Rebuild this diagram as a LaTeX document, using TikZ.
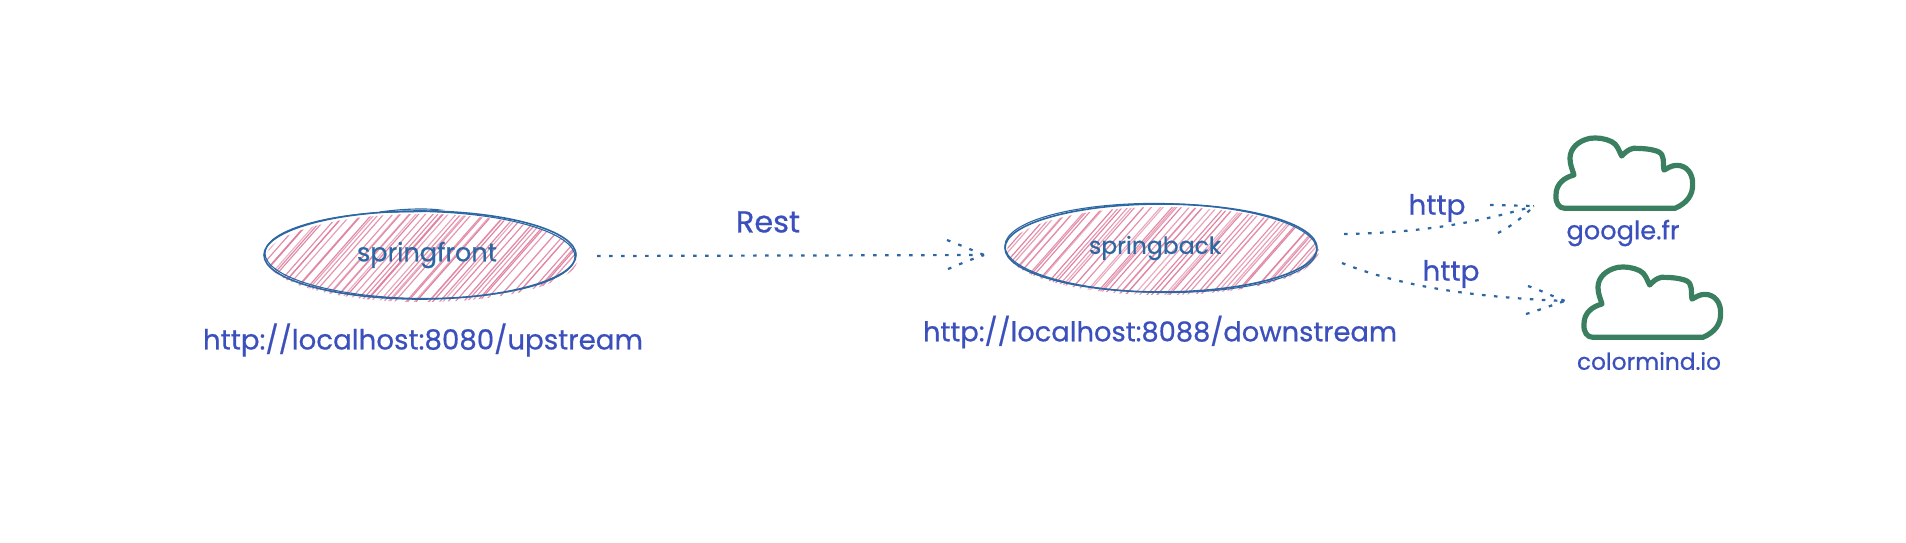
\documentclass[tikz,border=0pt]{standalone}
\usepackage{fontspec}
\setmainfont{Poppins}
\newfontfamily\sketchfont[FakeBold=0.6]{Poppins}
\usetikzlibrary{shapes.geometric,calc}
\definecolor{labelblue}{HTML}{3B50BC}
\definecolor{inkblue}{HTML}{2D67A3}
\definecolor{hachpink}{HTML}{E07F9E}
\definecolor{cloudgreen}{HTML}{3A8060}
\newcommand{\fitw}[2]{\resizebox{#1pt}{!}{\sketchfont #2}}
\newcommand{\hachfill}[4]{%
  \begin{scope}
    \clip (#1+2,#2+3) ellipse ({#3} and {#4});
    \pgfmathsetseed{#1}
    \foreach \k in {-38,...,38}{
      \pgfmathsetmacro\jx{\k*5+rand*1.2}
      \pgfmathsetmacro\jy{rand*5}
      \pgfmathsetmacro\op{0.6+0.4*rnd}
      \draw[hachline,draw opacity=\op] (#1+\jx-44+\jy,#2+50) -- (#1+\jx+44+\jy,#2-50);
    }
  \end{scope}}
\tikzset{
  x=1pt,y=-1pt,
  urltext/.style={text=labelblue,inner sep=0pt,font=\fontsize{25}{30}\selectfont},
  nametext/.style={text=inkblue,font=\fontsize{22}{26}\selectfont},
  hachline/.style={draw=hachpink,line width=1.15pt},
  oval/.style={ellipse,draw=inkblue,line width=1.6pt,inner sep=0pt,minimum width=312pt,minimum height=88pt},
  sketchline/.style={draw=inkblue,line width=1.1pt},
  dotline/.style={draw=inkblue,line width=2.2pt,dash pattern=on 3.6pt off 8.4pt},
  cloudpic/.pic={
    \draw[draw=cloudgreen,line width=5.2pt,line join=round,line cap=round,x=0.3333pt,y=-0.3333pt]
      (795,265) -- (1125,265)
      .. controls (1160,250) and (1180,225) .. (1178,190)
      .. controls (1178,160) and (1160,136) .. (1130,136)
      .. controls (1115,136) and (1103,145) .. (1092,150)
      .. controls (1088,125) and (1095,105) .. (1075,95)
      .. controls (1050,85) and (1015,85) .. (1000,85)
      .. controls (985,88) and (975,98) .. (965,108)
      .. controls (958,95) and (952,72) .. (935,65)
      .. controls (915,55) and (890,52) .. (870,55)
      .. controls (835,62) and (810,85) .. (810,115)
      .. controls (810,135) and (818,150) .. (822,165)
      .. controls (795,172) and (768,190) .. (768,225)
      .. controls (766,250) and (778,265) .. (795,265);
  }
}
\begin{document}
\begin{tikzpicture}
\useasboundingbox (0,0) rectangle (1906,542);
\fill[white] (0,0) rectangle (1906,542);

% hachure fills
\hachfill{420}{255}{156}{44}
\hachfill{1161}{248}{156}{44}

% ovals
\node[oval] (front) at (420,255) {};
\node[oval] (back) at (1161,248) {};
\draw[sketchline,rotate around={-0.7:(front.center)}] (front.center) ellipse (155 and 43.5);
\draw[sketchline,rotate around={-0.8:(back.center)}] (back.center) ellipse (156 and 44.5);
\coordinate (f1) at (380,212);
\coordinate (f2) at (440,210);
\draw[sketchline] (f1) .. controls (400,209) and (425,208) .. (f2) .. controls (425,212) and (400,212) .. (f1);

% texts
\node[nametext] (frontname) at (427,255) {\fitw{140}{springfront}};
\node[nametext] (backname) at (1155,248) {\fitw{132}{springback}};
\node[urltext] (fronturl) at (423,340) {\fitw{440}{http://localhost:8080/upstream}};
\node[urltext] (backurl) at (1160,332) {\fitw{474}{http://localhost:8088/downstream}};
\node[urltext] (rest) at (768,222) {\fitw{64}{Rest}};
\node[urltext] (http1) at (1437,208) {\fitw{57}{http}};
\node[urltext] (http2) at (1451,274) {\fitw{57}{http}};
\node[urltext] (google) at (1623,233) {\fitw{113}{google.fr}};
\node[urltext] (colormind) at (1649,361) {\fitw{144}{colormind.io}};

% clouds
\pic (cloudA) at (1300,120) {cloudpic};
\pic (cloudB) at (1328,249) {cloudpic};

% connectors
\coordinate (a0) at (597,256);
\coordinate (a1) at (984,255);
\coordinate (a2) at (947,240);
\coordinate (a3) at (948,269);
\draw[dotline] (a0) -- (a1);
\draw[dotline] (a2) .. controls (960,245) and (972,250) .. (a1);
\draw[dotline] (a3) .. controls (960,264) and (972,259) .. (a1);

\coordinate (b0) at (1344,234);
\coordinate (b1) at (1534,206);
\coordinate (b2) at (1490,205);
\coordinate (b3) at (1498,233);
\draw[dotline] (b0) .. controls (1400,233) and (1460,228) .. (b1);
\draw[dotline] (b2) -- (b1);
\draw[dotline] (b3) .. controls (1510,227) and (1522,218) .. (b1);

\coordinate (c0) at (1342,263);
\coordinate (c1) at (1565,301);
\coordinate (c2) at (1528,286);
\coordinate (c3) at (1526,314);
\draw[dotline] (c0) .. controls (1400,286) and (1470,297) .. (c1);
\draw[dotline] (c2) .. controls (1540,290) and (1552,296) .. (c1);
\draw[dotline] (c3) .. controls (1540,310) and (1552,305) .. (c1);
\end{tikzpicture}
\end{document}
